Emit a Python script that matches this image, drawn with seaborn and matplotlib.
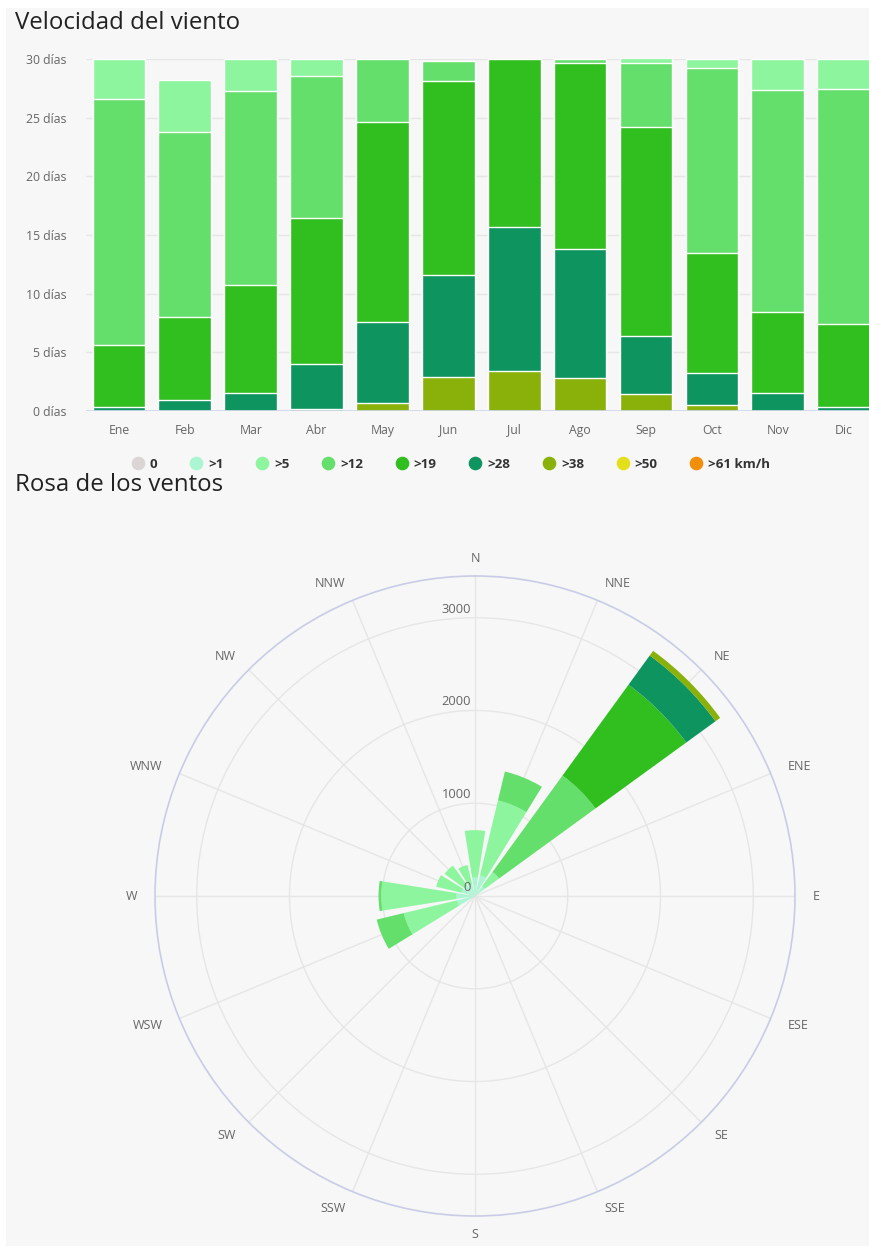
import numpy as np
import pandas as pd
import matplotlib
matplotlib.use("Agg")
import matplotlib.pyplot as plt
import matplotlib.transforms as mtransforms
from matplotlib.lines import Line2D
from matplotlib.patches import Rectangle
import seaborn as sns

# ---------------------------------------------------------------- data
months = ["Ene", "Feb", "Mar", "Abr", "May", "Jun",
          "Jul", "Ago", "Sep", "Oct", "Nov", "Dic"]

# days per month in each wind-speed class
days_0 = [0, 0, 0, 0, 0, 0, 0, 0, 0, 0, 0, 0]
days_gt1 = [0, 0, 0, 0, 0, 0, 0, 0, 0, 0, 0, 0]
days_gt5 = [3.4, 4.45, 2.75, 1.45, 0, 0, 0, 0, 0.35, 0.75, 2.65, 2.55]
days_gt12 = [21.0, 15.75, 16.5, 12.1, 5.4, 1.7, 0, 0.35, 5.5, 15.75, 18.95, 20.05]
days_gt19 = [5.25, 7.1, 9.25, 12.45, 17.05, 16.55, 14.3, 15.85, 17.8, 10.3, 6.9, 7.1]
days_gt28 = [0.35, 0.9, 1.5, 3.8, 6.85, 8.65, 12.3, 11.0, 4.95, 2.7, 1.5, 0.3]
days_gt38 = [0, 0, 0, 0.2, 0.7, 2.9, 3.4, 2.8, 1.45, 0.5, 0, 0]
days_gt50 = [0, 0, 0, 0, 0, 0, 0, 0, 0, 0, 0, 0]
days_gt61 = [0, 0, 0, 0, 0, 0, 0, 0, 0, 0, 0, 0]

speed_classes = ["0", ">1", ">5", ">12", ">19", ">28", ">38", ">50", ">61 km/h"]
class_colors = ["#dbd5d5", "#aaf5d2", "#8cf59e", "#64df6c", "#31be1f",
                "#0e945f", "#8ab10a", "#e3e01b", "#f28f0a"]

yticks_days = [0, 5, 10, 15, 20, 25, 30]

directions = ["N", "NNE", "NE", "ENE", "E", "ESE", "SE", "SSE",
              "S", "SSW", "SW", "WSW", "W", "WNW", "NW", "NNW"]
# hours per direction in each wind-speed class
rose_gt1 = [200, 230, 130, 20, 10, 10, 10, 10, 10, 10, 30, 200, 200, 150, 140, 130]
rose_gt5 = [510, 830, 190, 0, 0, 0, 0, 0, 0, 0, 0, 590, 810, 280, 265, 215]
rose_gt12 = [0, 320, 1285, 0, 0, 0, 0, 0, 0, 0, 0, 300, 30, 0, 0, 0]
rose_gt19 = [0, 0, 1210, 0, 0, 0, 0, 0, 0, 0, 0, 0, 0, 0, 0, 0]
rose_gt28 = [0, 0, 390, 0, 0, 0, 0, 0, 0, 0, 0, 0, 0, 0, 0, 0]
rose_gt38 = [0, 0, 62, 0, 0, 0, 0, 0, 0, 0, 0, 0, 0, 0, 0, 0]
rose_ticks = [0, 1000, 2000, 3000]

# ---------------------------------------------------------------- style
W, H = 869, 1247
BG = "#f7f7f7"
TXT = "#666666"
GRID = "#e6e6e6"

sns.set_theme(style="white")
plt.rcParams["font.family"] = ["Open Sans", "DejaVu Sans"]

fig = plt.figure(figsize=(W / 100, H / 100), dpi=100, facecolor="white")
fig.patches.append(Rectangle((6 / W, 1 / H), (W - 6) / W, (H - 9) / H,
                             transform=fig.transFigure, facecolor=BG,
                             edgecolor="none", zorder=-10))


def px(x, y):
    return x / W, 1 - y / H


# ---------------------------------------------------------------- monthly bars
ax = fig.add_axes([86 / W, 1 - 411 / H, 790.6 / W, 352 / H])
ax.set_facecolor("none")

layers = {
    ">61 km/h": days_gt61, ">50": days_gt50, ">38": days_gt38, ">28": days_gt28,
    ">19": days_gt19, ">12": days_gt12, ">5": days_gt5, ">1": days_gt1, "0": days_0,
}
color_of = dict(zip(speed_classes, class_colors))
stack_bottom_up = [">61 km/h", ">50", ">38", ">28", ">19", ">12", ">5", ">1", "0"]

cum = np.zeros(len(months))
tops = []
for cls in stack_bottom_up:
    vals = np.asarray(layers[cls], dtype=float)
    cum = cum + vals
    tops.append((cls, cum.copy(), vals.sum() > 0))

# stacked bars: each cumulative total drawn from the top class down
for cls, top, present in reversed(tops):
    if not present:
        continue
    df = pd.DataFrame({"mes": months, "dias": top})
    sns.barplot(data=df, x="mes", y="dias", color=color_of[cls], saturation=1,
                width=0.8, edgecolor="white", linewidth=1, errorbar=None,
                ax=ax, zorder=3)

ax.set_xlim(-0.5, len(months) - 0.5)
ax.set_ylim(0, 30)
ax.set_yticks(yticks_days)
ax.set_yticklabels([f"{v} días" for v in yticks_days])
ax.set_xlabel("")
ax.set_ylabel("")
for s in ax.spines.values():
    s.set_visible(False)
ax.grid(axis="y", color=GRID, linewidth=1, zorder=0)
ax.grid(axis="x", visible=False)
ax.set_axisbelow(True)
ax.axhline(0, color="#ccd6eb", linewidth=1.2, zorder=6)
ax.tick_params(axis="y", length=0, pad=14, labelsize=8.8, labelcolor=TXT)
ax.tick_params(axis="x", length=0, pad=9, labelsize=8.8, labelcolor=TXT)

fig.text(*px(15, 23), "Velocidad del viento", fontsize=17.3, color="#222222",
         ha="left", va="center")

# ---------------------------------------------------------------- legend
handles = [Line2D([0], [0], marker="o", linestyle="", markersize=8.8,
                  markerfacecolor=c, markeredgecolor=c) for c in class_colors]
leg = fig.legend(handles, speed_classes, loc="center",
                 bbox_to_anchor=px(451, 464), ncol=len(speed_classes),
                 frameon=False, handlelength=0.9, handletextpad=0.45,
                 columnspacing=2.45, borderpad=0,
                 prop={"weight": "bold", "size": 9.6})
for t in leg.get_texts():
    t.set_color("#333333")

fig.text(*px(15, 485), "Rosa de los ventos", fontsize=17.3, color="#222222",
         ha="left", va="center")

# ---------------------------------------------------------------- wind rose
axr = fig.add_axes([155 / W, 1 - 1216 / H, 640 / W, 640 / H], projection="polar")
axr.set_facecolor("none")
axr.set_theta_zero_location("N")
axr.set_theta_direction(-1)

theta = np.deg2rad(np.arange(len(directions)) * 22.5)
sector = np.deg2rad(22.5 * 0.8)
rmax = 3450

rose_layers = [(">1", rose_gt1), (">5", rose_gt5), (">12", rose_gt12),
               (">19", rose_gt19), (">28", rose_gt28), (">38", rose_gt38)]
base = np.zeros(len(directions))
for cls, vals in rose_layers:
    vals = np.asarray(vals, dtype=float)
    axr.bar(theta, vals, width=sector, bottom=base, color=color_of[cls],
            linewidth=0, zorder=3)
    base = base + vals

axr.set_ylim(0, rmax)
axr.set_yticks(rose_ticks[1:])
axr.set_yticklabels([])
axr.set_xticks(theta)
axr.set_xticklabels([])
axr.tick_params(length=0)
axr.grid(True, color=GRID, linewidth=1)
axr.spines["polar"].set_color("#c9cce6")
axr.spines["polar"].set_linewidth(1.2)

off = mtransforms.offset_copy(axr.transData, fig=fig, x=-4, y=2, units="dots")
for v in rose_ticks:
    axr.text(0, v, str(v), transform=off, ha="right", va="bottom",
             fontsize=9.3, color=TXT, zorder=5)

r_lab = rmax * 338 / 320
for ang, name in zip(np.arange(len(directions)) * 22.5, directions):
    if ang in (0, 180):
        ha = "center"
    elif ang < 180:
        ha = "left"
    else:
        ha = "right"
    axr.text(np.deg2rad(ang), r_lab, name, ha=ha, va="center",
             fontsize=9, color=TXT, clip_on=False)

fig.savefig("out.png", dpi=100, facecolor=fig.get_facecolor())
